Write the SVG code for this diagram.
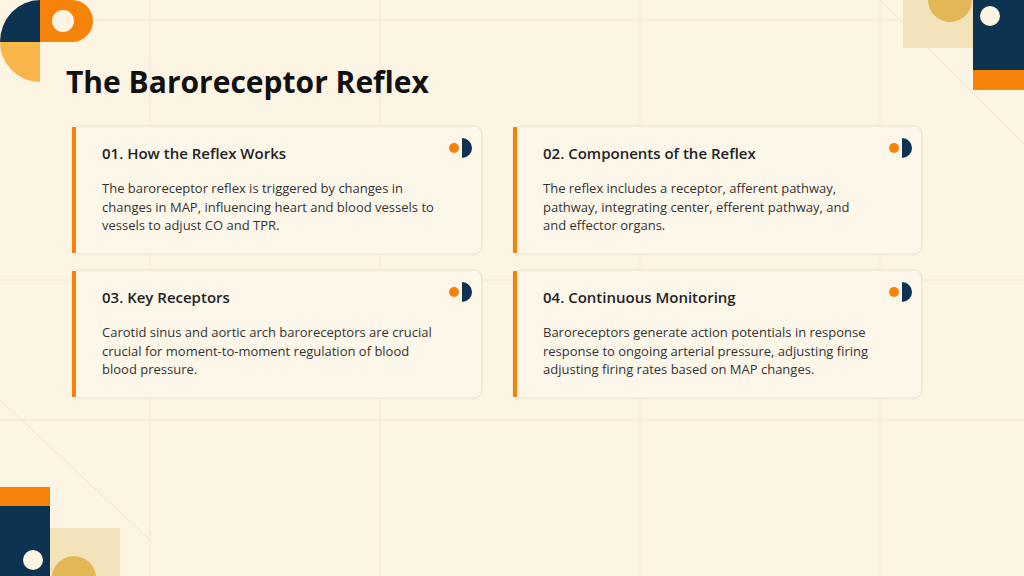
<svg xmlns="http://www.w3.org/2000/svg" width="1024" height="576" viewBox="0 0 1024 576">
<style>
.card{fill:#fdf7ea;stroke:#e8e0cc;stroke-width:1}
.bar{fill:#f5830a}
.t{font-family:"Open Sans","Liberation Sans",sans-serif;font-size:15px;font-weight:600;fill:#222}
.b{font-family:"Open Sans","Liberation Sans",sans-serif;font-size:13px;fill:#333}
.navy{fill:#0d3350}.or{fill:#f5830a}
</style>
<defs>
<g id="icon"><circle cx="0" cy="0" r="5" class="or"/><path d="M8,-10 A10,10 0 0 1 8,10 Z" class="navy"/></g>
</defs>
<rect width="1024" height="576" fill="#fdf5e4"/>
<g stroke="#efe6d2" stroke-width="1" fill="none">
<path d="M0,20 H1024 M0,280 H1024 M0,420 H1024 M150,0 V576 M380,0 V576 M640,0 V576 M880,0 V576 M880,0 L1024,144 M0,400 L150,540"/>
</g>
<g id="deco">
<path d="M0,42 A40,42 0 0 1 40,0 V42 Z" class="navy"/>
<path d="M40,0 H72 A21,21 0 0 1 72,42 H40 Z" class="or"/>
<circle cx="63" cy="21" r="11" fill="#fdf5e4"/>
<path d="M0,42 H40 V82 A40,40 0 0 1 0,42 Z" fill="#f8b54a"/>
<rect x="903" y="0" width="70" height="48" fill="#f3e3bb"/>
<path d="M928,0 A22,22 0 0 0 972,0 Z" fill="#e3b757"/>
<rect x="973" y="0" width="51" height="70" class="navy"/>
<circle cx="990" cy="16" r="10" fill="#fdf5e4"/>
<rect x="973" y="70" width="51" height="20" class="or"/>
<rect x="0" y="487" width="50" height="19" class="or"/>
<rect x="0" y="506" width="50" height="70" class="navy"/>
<circle cx="33" cy="560" r="10" fill="#fdf5e4"/>
<rect x="50" y="528" width="70" height="48" fill="#f3e3bb"/>
<circle cx="74" cy="578" r="22" fill="#e3b757"/>
</g>
<text x="66" y="93" font-family="Open Sans,Liberation Sans,sans-serif" font-size="30" font-weight="700" fill="#111">The Baroreceptor Reflex</text>
<g id="connectors"/>
<g id="card1">
<rect class="card" x="72" y="126" width="410" height="128" rx="8"/>
<rect class="bar" x="72" y="127" width="4" height="126"/>
<use href="#icon" x="454" y="148"/>
<text class="t" x="102" y="159">01. How the Reflex Works</text>
<text class="b" x="102" y="193">The baroreceptor reflex is triggered by changes in</text>
<text class="b" x="102" y="212">changes in MAP, influencing heart and blood vessels to</text>
<text class="b" x="102" y="230">vessels to adjust CO and TPR.</text>
</g>
<g id="card2">
<rect class="card" x="513" y="126" width="409" height="128" rx="8"/>
<rect class="bar" x="513" y="127" width="4" height="126"/>
<use href="#icon" x="894" y="148"/>
<text class="t" x="543" y="159">02. Components of the Reflex</text>
<text class="b" x="543" y="193">The reflex includes a receptor, afferent pathway,</text>
<text class="b" x="543" y="212">pathway, integrating center, efferent pathway, and</text>
<text class="b" x="543" y="230">and effector organs.</text>
</g>
<g id="card3">
<rect class="card" x="72" y="270" width="410" height="128" rx="8"/>
<rect class="bar" x="72" y="271" width="4" height="126"/>
<use href="#icon" x="454" y="292"/>
<text class="t" x="102" y="303">03. Key Receptors</text>
<text class="b" x="102" y="337">Carotid sinus and aortic arch baroreceptors are crucial</text>
<text class="b" x="102" y="356">crucial for moment-to-moment regulation of blood</text>
<text class="b" x="102" y="374">blood pressure.</text>
</g>
<g id="card4">
<rect class="card" x="513" y="270" width="409" height="128" rx="8"/>
<rect class="bar" x="513" y="271" width="4" height="126"/>
<use href="#icon" x="894" y="292"/>
<text class="t" x="543" y="303">04. Continuous Monitoring</text>
<text class="b" x="543" y="337">Baroreceptors generate action potentials in response</text>
<text class="b" x="543" y="356">response to ongoing arterial pressure, adjusting firing</text>
<text class="b" x="543" y="374">adjusting firing rates based on MAP changes.</text>
</g>
</svg>
